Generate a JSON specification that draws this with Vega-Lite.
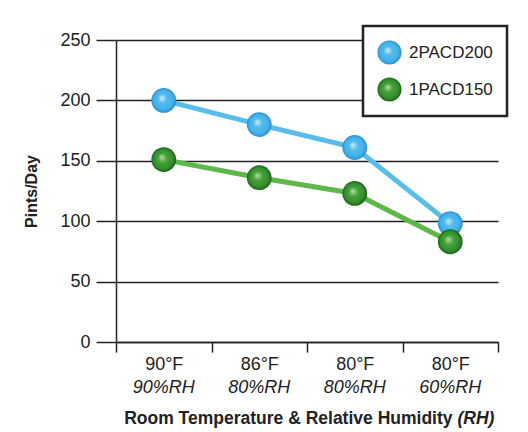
{
  "$schema": "https://vega.github.io/schema/vega-lite/v6.json",
  "width": 382,
  "height": 302,
  "autosize": "none",
  "padding": {"left": 116, "top": 40, "right": 30, "bottom": 90},
  "background": "#ffffff",
  "config": {
    "font": "Liberation Sans, Arial, sans-serif",
    "view": {"stroke": null},
    "legend": {"strokeWidth": 2.5}
  },
  "data": {
    "values": [
      {"condition": "90°F / 90%RH", "model": "2PACD200", "pints": 200},
      {"condition": "86°F / 80%RH", "model": "2PACD200", "pints": 180},
      {"condition": "80°F / 80%RH", "model": "2PACD200", "pints": 161},
      {"condition": "80°F / 60%RH", "model": "2PACD200", "pints": 98},
      {"condition": "90°F / 90%RH", "model": "1PACD150", "pints": 151},
      {"condition": "86°F / 80%RH", "model": "1PACD150", "pints": 136},
      {"condition": "80°F / 80%RH", "model": "1PACD150", "pints": 123},
      {"condition": "80°F / 60%RH", "model": "1PACD150", "pints": 83}
    ]
  },
  "encoding": {
    "y": {
      "field": "pints",
      "type": "quantitative",
      "scale": {"domain": [0, 250], "nice": false, "zero": true},
      "axis": {
        "values": [0, 50, 100, 150, 200, 250],
        "grid": true,
        "gridColor": "#222222",
        "gridWidth": 1.5,
        "gridOpacity": 1,
        "domainColor": "#222222",
        "domainWidth": 1.5,
        "tickColor": "#222222",
        "tickWidth": 1.5,
        "tickSize": 20,
        "labelFontSize": 18,
        "labelColor": "#222222",
        "labelPadding": 6,
        "title": "Pints/Day",
        "titleFontSize": 16,
        "titleFontWeight": "bold",
        "titleColor": "#222222",
        "titlePadding": 20
      }
    }
  },
  "layer": [
    {
      "mark": {"type": "line", "strokeWidth": 5},
      "encoding": {
        "x": {
          "field": "condition",
          "type": "nominal",
          "sort": null,
          "scale": {"type": "band", "paddingInner": 0, "paddingOuter": 0},
          "axis": {
            "orient": "bottom",
            "labelExpr": "split(datum.label, ' / ')[0]",
            "labelAngle": 0,
            "labelFontSize": 18,
            "labelColor": "#222222",
            "labelPadding": 3,
            "domainColor": "#222222",
            "domainWidth": 1.5,
            "ticks": true,
            "tickBand": "extent",
            "tickSize": 10,
            "tickColor": "#222222",
            "tickWidth": 1.5,
            "grid": false,
            "title": null
          }
        },
        "color": {
          "field": "model",
          "type": "nominal",
          "sort": ["2PACD200", "1PACD150"],
          "scale": {"domain": ["2PACD200", "1PACD150"], "range": ["#58bde9", "#5cb848"]},
          "legend": {
            "title": null,
            "orient": "none",
            "legendX": 247,
            "legendY": -14,
            "strokeColor": "#222222",
            "fillColor": "#ffffff",
            "padding": 14,
            "symbolType": "circle",
            "symbolSize": 580,
            "symbolStrokeWidth": 0,
            "labelFontSize": 17,
            "labelColor": "#222222",
            "labelOffset": 7,
            "rowPadding": 12,
            "encode": {
              "symbols": {
                "update": {
                  "fill": {"signal": "datum.value == '2PACD200' ? {gradient: 'radial', x1: 0.42, y1: 0.4, r1: 0, x2: 0.5, y2: 0.5, r2: 0.5, stops: [{offset: 0, color: '#c3e8f9'}, {offset: 0.2, color: '#8fd2f3'}, {offset: 0.36, color: '#52bbeb'}, {offset: 0.75, color: '#44b2e8'}, {offset: 1, color: '#2a90d5'}]} : {gradient: 'radial', x1: 0.42, y1: 0.4, r1: 0, x2: 0.5, y2: 0.5, r2: 0.5, stops: [{offset: 0, color: '#b0d9a2'}, {offset: 0.2, color: '#80c070'}, {offset: 0.36, color: '#46a23a'}, {offset: 0.75, color: '#368f2e'}, {offset: 1, color: '#1d641b'}]}"},
                  "stroke": {"value": "transparent"},
                  "opacity": {"value": 1}
                }
              }
            }
          }
        }
      }
    },
    {
      "transform": [{"filter": "datum.model == '2PACD200'"}],
      "mark": {
        "type": "point",
        "filled": true,
        "size": 615,
        "opacity": 1,
        "strokeWidth": 0,
        "fill": {
          "gradient": "radial",
          "x1": 0.42, "y1": 0.4, "r1": 0,
          "x2": 0.5, "y2": 0.5, "r2": 0.5,
          "stops": [
            {"offset": 0, "color": "#c3e8f9"},
            {"offset": 0.2, "color": "#8fd2f3"},
            {"offset": 0.36, "color": "#52bbeb"},
            {"offset": 0.75, "color": "#44b2e8"},
            {"offset": 1, "color": "#2a90d5"}
          ]
        }
      },
      "encoding": {
        "x": {
          "field": "condition",
          "type": "nominal",
          "sort": null,
          "scale": {"type": "band", "paddingInner": 0, "paddingOuter": 0},
          "axis": {
            "orient": "bottom",
            "labelExpr": "split(datum.label, ' / ')[1]",
            "labelAngle": 0,
            "labelFontSize": 18,
            "labelFontStyle": "italic",
            "labelColor": "#222222",
            "labelPadding": 36,
            "domain": false,
            "ticks": false,
            "tickSize": 0,
            "grid": false,
            "title": "Room Temperature & Relative Humidity",
            "titleFontSize": 17.5,
            "titleFontWeight": "bold",
            "titleColor": "#222222",
            "titleX": 336,
            "titleY": 81,
            "titleAlign": "right",
            "titleBaseline": "alphabetic"
          }
        }
      }
    },
    {
      "transform": [{"filter": "datum.model == '1PACD150'"}],
      "mark": {
        "type": "point",
        "filled": true,
        "size": 615,
        "opacity": 1,
        "strokeWidth": 0,
        "fill": {
          "gradient": "radial",
          "x1": 0.42, "y1": 0.4, "r1": 0,
          "x2": 0.5, "y2": 0.5, "r2": 0.5,
          "stops": [
            {"offset": 0, "color": "#b0d9a2"},
            {"offset": 0.2, "color": "#80c070"},
            {"offset": 0.36, "color": "#46a23a"},
            {"offset": 0.75, "color": "#368f2e"},
            {"offset": 1, "color": "#1d641b"}
          ]
        }
      },
      "encoding": {
        "x": {
          "field": "condition",
          "type": "nominal",
          "sort": null,
          "scale": {"type": "band", "paddingInner": 0, "paddingOuter": 0},
          "axis": {
            "orient": "bottom",
            "labels": false,
            "domain": false,
            "ticks": false,
            "grid": false,
            "title": "(RH)",
            "titleFontSize": 17.5,
            "titleFontWeight": "bold",
            "titleFontStyle": "italic",
            "titleColor": "#222222",
            "titleX": 341,
            "titleY": 81,
            "titleAlign": "left",
            "titleBaseline": "alphabetic"
          }
        }
      }
    }
  ],
  "resolve": {"axis": {"x": "independent"}}
}
